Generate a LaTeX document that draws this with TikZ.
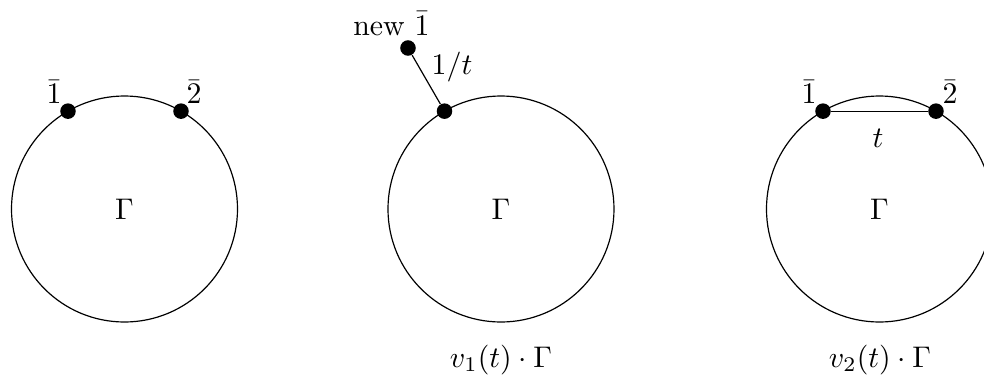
\documentclass[tikz,border=0pt]{standalone}
\usetikzlibrary{calc}
\begin{document}
\begin{tikzpicture}[x=0.335pt,y=-0.335pt,
  ring/.style={draw,line width=0.4pt},
  vdot/.style={circle,fill=black,inner sep=0pt,minimum size=5.2pt},
  lbl/.style={inner sep=0pt}]
\useasboundingbox (0,0) rectangle (984,375);
\def\rad{37.855pt}
% left
\node[lbl] (L) at (124.5,209) {$\Gamma$};
\draw[ring] (L.center) circle[radius=\rad];
\node[vdot] (L1) at ($(L.center)+(120:\rad)$) {};
\node[vdot] (L2) at ($(L.center)+(60:\rad)$) {};
\node[lbl] (L1t) at (54,92) {$\bar{1}$};
\node[lbl] (L2t) at (194,92) {$\bar{2}$};
% middle
\node[lbl] (M) at (501,209) {$\Gamma$};
\draw[ring] (M.center) circle[radius=\rad];
\node[vdot] (M1) at ($(M.center)+(120:\rad)$) {};
\node[vdot] (N1) at (408,48) {};
\draw (M1) -- (N1);
\node[lbl] (N1t) at (391.5,23.5) {new $\bar{1}$};
\node[lbl] (Mt) at (452,67) {$1/t$};
\node[lbl] (Mcap) at (501,360) {$v_1(t)\cdot\Gamma$};
% right
\node[lbl] (R) at (879.5,209) {$\Gamma$};
\draw[ring] (R.center) circle[radius=\rad];
\node[vdot] (R1) at ($(R.center)+(120:\rad)$) {};
\node[vdot] (R2) at ($(R.center)+(60:\rad)$) {};
\draw (R1) -- (R2);
\node[lbl] (R1t) at (809,92) {$\bar{1}$};
\node[lbl] (R2t) at (950,92) {$\bar{2}$};
\node[lbl] (Rt) at (878,138) {$t$};
\node[lbl] (Rcap) at (880,360) {$v_2(t)\cdot\Gamma$};
\end{tikzpicture}
\end{document}
